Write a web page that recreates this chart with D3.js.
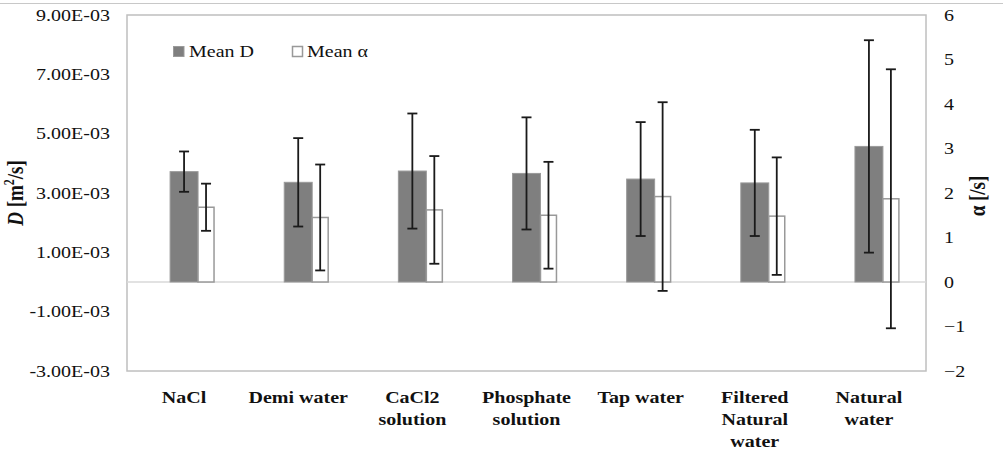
<!DOCTYPE html>
<html>
<head>
<meta charset="utf-8">
<script src="https://cdn.jsdelivr.net/npm/d3@7"></script>
<style>
  html, body { margin: 0; padding: 0; background: #fff; }
  svg { display: block; }
  svg text { font-family: "Liberation Serif", "Times New Roman", Tinos, "DejaVu Serif", serif !important; }
</style>
</head>
<body>
<svg id="chart" width="1003" height="453"></svg>
<script>
// Sample categories (multi-line labels)
const categories = ["NaCl", "Demi water", "CaCl2 solution", "Phosphate solution", "Tap water", "Filtered Natural water", "Natural water"];
const categoryLines = [["NaCl"], ["Demi water"], ["CaCl2", "solution"], ["Phosphate", "solution"], ["Tap water"], ["Filtered", "Natural", "water"], ["Natural", "water"]];

// Mean dispersion coefficient D [m²/s] and its error
const meanD = [3.72e-3, 3.36e-3, 3.74e-3, 3.66e-3, 3.47e-3, 3.34e-3, 4.57e-3];
const errD  = [0.68e-3, 1.49e-3, 1.94e-3, 1.89e-3, 1.92e-3, 1.79e-3, 3.58e-3];

// Mean alpha [/s] and its error
const meanAlpha = [1.68, 1.45, 1.62, 1.50, 1.92, 1.48, 1.87];
const errAlpha  = [0.53, 1.19, 1.21, 1.20, 2.12, 1.32, 2.91];

// Axis ticks
const ticksD = [-3e-3, -1e-3, 1e-3, 3e-3, 5e-3, 7e-3, 9e-3];
const ticksAlpha = [-2, -1, 0, 1, 2, 3, 4, 5, 6];

const svg = d3.select("#chart");
const plotL = 127, plotR = 926, plotT = 15, plotB = 371;
const SX = 1.25; // horizontal text stretch

const x = d3.scaleBand().domain(categories).range([plotL, plotR]).paddingInner(0).paddingOuter(0);
const yD = d3.scaleLinear().domain([-3e-3, 9e-3]).range([plotB, plotT]);
const yA = d3.scaleLinear().domain([-2, 6]).range([plotB, plotT]);

// thin frame line along the top edge
svg.append("line").attr("x1", 0).attr("x2", 1003).attr("y1", 3.5).attr("y2", 3.5)
  .attr("stroke", "#c8c8c8").attr("stroke-width", 1);

// plot box
svg.append("rect").attr("x", plotL).attr("y", plotT).attr("width", plotR - plotL).attr("height", plotB - plotT)
  .attr("fill", "none").attr("stroke", "#bfbfbf").attr("stroke-width", 1.5);

// zero line (category axis)
svg.append("line").attr("x1", plotL).attr("x2", plotR).attr("y1", yD(0)).attr("y2", yD(0))
  .attr("stroke", "#d9d9d9").attr("stroke-width", 1.5);

const fmtE = v => {
  const [m, e] = v.toExponential(2).split("e");
  const n = +e;
  return m + "E" + (n < 0 ? "-" : "+") + String(Math.abs(n)).padStart(2, "0");
};

// left axis
const axL = svg.append("g").attr("transform", `translate(${plotL},0)`)
  .call(d3.axisLeft(yD).tickValues(ticksD).tickFormat(fmtE).tickSize(0));
axL.attr("font-family", null);
axL.select(".domain").remove();
axL.selectAll("text").attr("x", 0).attr("dy", "0.32em")
  .attr("transform", `translate(-17,0) scale(${SX},1)`)
  .attr("font-size", 16).attr("fill", "#111");

// right axis
const axR = svg.append("g").attr("transform", `translate(${plotR},0)`)
  .call(d3.axisRight(yA).tickValues(ticksAlpha).tickFormat(d3.format("d")).tickSize(0));
axR.attr("font-family", null);
axR.select(".domain").remove();
axR.selectAll("text").attr("x", 0).attr("dy", "0.32em")
  .attr("transform", `translate(18,0) scale(${SX},1)`)
  .attr("font-size", 16).attr("fill", "#111");

// category labels
const xl = svg.append("g");
categories.forEach((c, i) => {
  const cx = x(c) + x.bandwidth() / 2;
  const t = xl.append("text")
    .attr("transform", `translate(${cx},402.5) scale(${SX},1)`)
    .attr("text-anchor", "middle").attr("font-weight", "bold")
    .attr("font-size", 16).attr("fill", "#111");
  categoryLines[i].forEach((ln, k) => {
    t.append("tspan").attr("x", 0).attr("y", k * 22.5).text(ln);
  });
});

const rows = categories.map((c, i) => ({ c, d: meanD[i], ed: errD[i], a: meanAlpha[i], ea: errAlpha[i] }));
const cx = c => x(c) + x.bandwidth() / 2;
const wD = x.bandwidth() * 0.245, wA = x.bandwidth() * 0.14;

// Mean D bars
svg.append("g").selectAll("rect").data(rows).join("rect")
  .attr("x", d => cx(d.c) - wD / 2)
  .attr("y", d => yD(d.d))
  .attr("width", wD)
  .attr("height", d => yD(0) - yD(d.d))
  .attr("fill", "#7f7f7f").attr("stroke", "#9a9a9a").attr("stroke-width", 1);

// Mean alpha bars
svg.append("g").selectAll("rect").data(rows).join("rect")
  .attr("x", d => cx(d.c) + wD / 2)
  .attr("y", d => yA(d.a))
  .attr("width", wA)
  .attr("height", d => yA(0) - yA(d.a))
  .attr("fill", "#fff").attr("stroke", "#999").attr("stroke-width", 1.5);

// error bars
function errorBars(data, xf, y0, y1) {
  const g = svg.append("g").attr("stroke", "#1a1a1a").attr("stroke-width", 1.8);
  const cap = 5;
  data.forEach(d => {
    const xx = xf(d), a = y0(d), b = y1(d);
    g.append("line").attr("x1", xx).attr("x2", xx).attr("y1", a).attr("y2", b);
    g.append("line").attr("x1", xx - cap).attr("x2", xx + cap).attr("y1", a).attr("y2", a);
    g.append("line").attr("x1", xx - cap).attr("x2", xx + cap).attr("y1", b).attr("y2", b);
  });
}
errorBars(rows, d => cx(d.c), d => yD(d.d + d.ed), d => yD(d.d - d.ed));
errorBars(rows, d => cx(d.c) + wD / 2 + wA / 2, d => yA(d.a + d.ea), d => yA(d.a - d.ea));

// legend
const lg = svg.append("g");
lg.append("rect").attr("x", 173.5).attr("y", 46.5).attr("width", 10.5).attr("height", 10)
  .attr("fill", "#7f7f7f").attr("stroke", "#9a9a9a").attr("stroke-width", 1);
lg.append("text").attr("transform", `translate(189,57) scale(${SX},1)`)
  .attr("font-size", 16).attr("fill", "#111").text("Mean D");
lg.append("rect").attr("x", 292.5).attr("y", 46.5).attr("width", 10).attr("height", 10)
  .attr("fill", "#fff").attr("stroke", "#999").attr("stroke-width", 1.5);
lg.append("text").attr("transform", `translate(307,57) scale(${SX},1)`)
  .attr("font-size", 16).attr("fill", "#111").text("Mean α");

// axis titles
const tl = svg.append("text")
  .attr("transform", `translate(23,193) rotate(-90) scale(1,${SX})`)
  .attr("text-anchor", "middle").attr("font-weight", "bold").attr("font-size", 19).attr("fill", "#111");
tl.append("tspan").attr("font-style", "italic").text("D");
tl.append("tspan").text(" [m");
tl.append("tspan").attr("font-size", 12).attr("dy", -7).text("2");
tl.append("tspan").attr("dy", 7).text("/s]");

svg.append("text")
  .attr("transform", `translate(985,196) rotate(-90) scale(1,${SX})`)
  .attr("text-anchor", "middle").attr("font-weight", "bold").attr("font-size", 19).attr("fill", "#111")
  .text("α [/s]");
</script>
</body>
</html>
